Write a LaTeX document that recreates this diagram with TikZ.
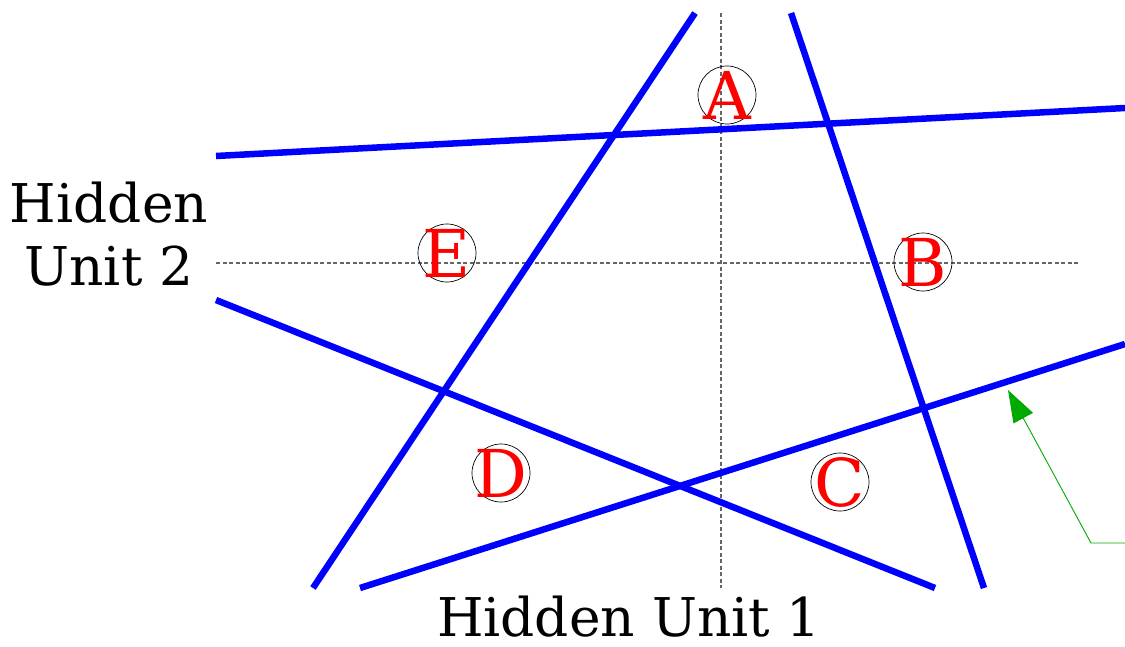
\documentclass[tikz,border=0pt]{standalone}
\usepackage{fontspec}
\setmainfont{DejaVu Serif}
\usetikzlibrary{arrows.meta}
\definecolor{sepblue}{HTML}{0000FF}
\definecolor{hintgreen}{HTML}{00AA00}

\begin{document}
\begin{tikzpicture}[x=1pt,y=-1pt,>={Triangle[length=32pt,width=22pt]},
  sepline/.style={line width=6.5pt,sepblue},
  axisline/.style={gray!80!black,line width=1.1pt,dash pattern=on 4pt off 2.5pt},
  region/.style={draw,circle,line width=0.7pt,minimum size=58pt,inner sep=0pt},
  regionlab/.style={text=red,inner sep=0pt,font=\fontsize{66}{66}\selectfont},
  axislab/.style={font=\fontsize{53.4}{63}\selectfont,align=center}]
  \useasboundingbox (0,0) rectangle (1125,646);
  % axes
  \coordinate (vtop) at (721,13);  \coordinate (vbot) at (721,588);
  \coordinate (hlft) at (216,263); \coordinate (hrgt) at (1078,263);
  \draw[axisline] (vtop)--(vbot);
  \draw[axisline] (hlft)--(hrgt);
  % separating lines
  \foreach \xa/\ya/\xb/\yb in {313/588/695/13, 791/13/984/588, 216/156/1125/108,
                               216/300/935/588, 360/588/1125/344}{
    \draw[sepline] (\xa,\ya)--(\xb,\yb);
  }
  % regions
  \foreach \n/\x/\y in {A/727/95, B/923/262, C/840/482, D/501/473, E/447/253}{
    \node[region] (\n) at (\x,\y) {};
    \node[regionlab] (\n lab) at (\n.center) {\n};
  }
  \node[axislab] (unitone) at (629,617) {Hidden Unit 1};
  \node[axislab] (unittwo) at (109,234) {Hidden\\Unit 2};
  % pointer
  \coordinate (tail) at (1125,543);
  \coordinate (bend) at (1091,543);
  \coordinate (tip) at (1008,390);
  \draw[->,hintgreen,line width=0.9pt] (tail)--(bend)--(tip);
\end{tikzpicture}
\end{document}
